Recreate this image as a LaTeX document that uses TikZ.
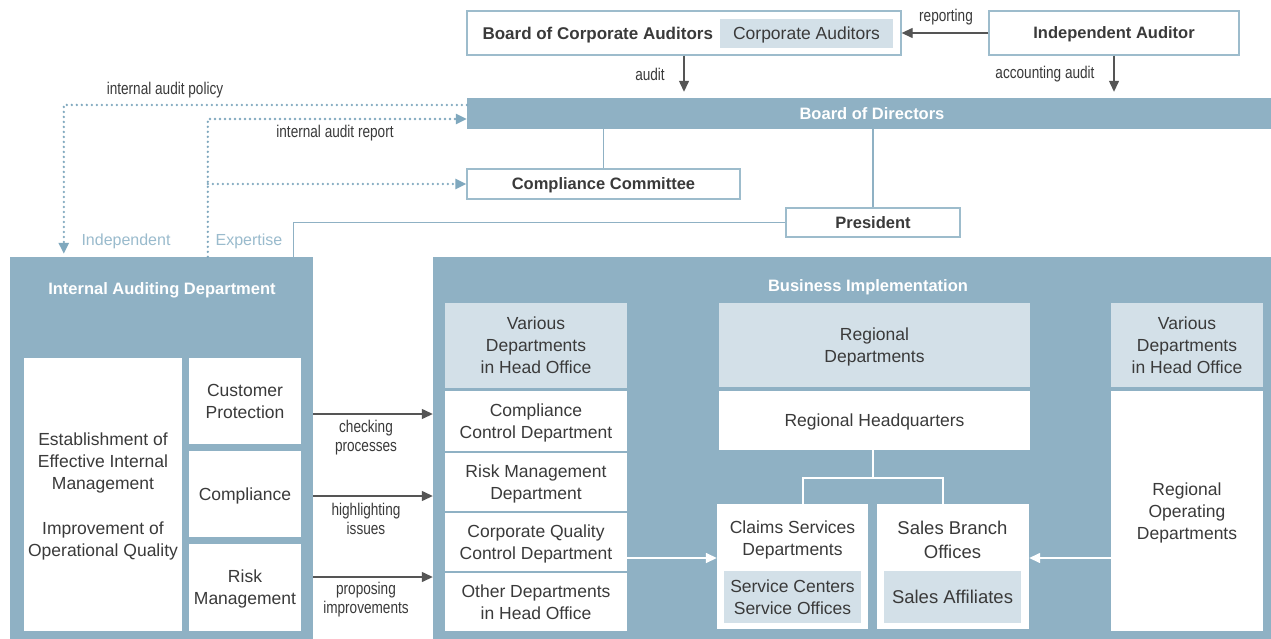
\documentclass[tikz,border=0pt]{standalone}
\usepackage{fontspec}
\setmainfont{Liberation Sans}
\newfontfamily\cond{Liberation Sans}[FakeStretch=0.8]
\usetikzlibrary{arrows.meta,calc}
\definecolor{bblue}{HTML}{8FB1C4}
\definecolor{lblue}{HTML}{D3E0E8}
\definecolor{oblue}{HTML}{9DBCCC}
\definecolor{dblue}{HTML}{7FA8BE}
\definecolor{tblue}{HTML}{9ABBCD}
\definecolor{txt}{HTML}{3A3A3A}
\definecolor{agray}{HTML}{555555}
\tikzset{
  body/.style={font=\fontsize{17.5}{22}\selectfont, text=txt, align=center, text depth=0pt},
  hbold/.style={font=\fontsize{16.5}{20}\selectfont\bfseries, align=center, text depth=0pt},
  small/.style={font=\cond\fontsize{17}{19}\selectfont, text=txt, align=center},
  outbox/.style={draw=oblue, line width=1.3pt, fill=white, inner sep=0pt},
  wbox/.style={fill=white, inner sep=0pt, body},
  lbox/.style={fill=lblue, inner sep=0pt, body},
  bluebox/.style={fill=bblue, inner sep=0pt},
  darr/.style={draw=agray, line width=1.3pt, -{Triangle[length=11pt,width=10pt]}},
  warr/.style={draw=white, line width=1.5pt, -{Triangle[length=11pt,width=10pt]}},
  bline/.style={draw=bblue, line width=1.3pt},
  wline/.style={draw=white, line width=1.8pt},
  dotline/.style={draw=dblue, line width=2.6pt, line cap=round, dash pattern=on 0pt off 5pt,
    -{Triangle[length=11pt,width=10pt,fill=dblue]}},
}
\begin{document}
\begin{tikzpicture}[x=1pt,y=-1pt]
\useasboundingbox[fill=white] (0,0) rectangle (1271,639);

% top boxes
\node[outbox, minimum width=434, minimum height=44] (bca) at (684,33) {};
\node[hbold, text=txt, anchor=west, font=\fontsize{17}{20}\selectfont\bfseries] (bcat) at (479,33) {Board of Corporate Auditors};
\node[lbox, minimum width=173, minimum height=29] (ca) at (806.5,33.5) {Corporate Auditors};
\node[outbox, hbold, text=txt, minimum width=250, minimum height=44] (ia) at (1114,33) {Independent Auditor};

\node[bluebox, hbold, text=white, minimum width=804, minimum height=31] (bod) at (869,113.5) {\hspace*{6pt}Board of Directors};
\node[outbox, hbold, text=txt, minimum width=273, minimum height=30] (cc) at (603.5,184) {Compliance Committee};
\node[outbox, hbold, text=txt, minimum width=174, minimum height=29] (pres) at (873,222.5) {President};

% containers
\node[bluebox, minimum width=303, minimum height=382] (iad) at (161.5,448) {};
\node[hbold, text=white] (iadt) at (162,289) {Internal Auditing Department};
\node[bluebox, minimum width=838, minimum height=382] (bi) at (852,448) {};
\node[hbold, text=white] (bit) at (868,286) {Business Implementation};

% IAD internals
\node[wbox, minimum width=158, minimum height=273] (est) at (103,494.5)
  {Establishment of\\Effective Internal\\Management\\[23pt]Improvement of\\Operational Quality};
\node[wbox, minimum width=112, minimum height=86] (cp) at (245,401) {Customer\\Protection};
\node[wbox, minimum width=112, minimum height=86] (comp) at (245,494) {Compliance};
\node[wbox, minimum width=112, minimum height=87] (rm) at (245,587.5) {Risk\\Management};

% BI column 1
\node[lbox, minimum width=182, minimum height=85] (h1) at (536,345.5) {Various\\Departments\\in Head Office};
\node[wbox, minimum width=182, minimum height=60] (ccd) at (536,421) {Compliance\\Control Department};
\node[wbox, minimum width=182, minimum height=58] (rmd) at (536,482) {Risk Management\\Department};
\node[wbox, minimum width=182, minimum height=58] (cqd) at (536,542) {Corporate Quality\\Control Department};
\node[wbox, minimum width=182, minimum height=58] (odh) at (536,602) {Other Departments\\in Head Office};

% BI column 2
\node[lbox, minimum width=311, minimum height=84] (h2) at (874.5,345) {Regional\\Departments};
\node[wbox, minimum width=311, minimum height=59] (rhq) at (874.5,420.5) {Regional Headquarters};
\node[fill=white, inner sep=0pt, minimum width=151, minimum height=125] (csd) at (792.5,566.5) {};
\node[body] (csdt) at (792.5,538) {Claims Services\\Departments};
\node[lbox, minimum width=137, minimum height=52] (sc) at (792.5,597) {Service Centers\\Service Offices};
\node[fill=white, inner sep=0pt, minimum width=152, minimum height=125] (sbo) at (953,566.5) {};
\node[body, font=\fontsize{18.5}{24}\selectfont] (sbot) at (952.5,540) {Sales Branch\\Offices};
\node[lbox, minimum width=137, minimum height=52, font=\fontsize{18.5}{24}\selectfont] (sa) at (952.5,597) {Sales Affiliates};

% BI column 3
\node[lbox, minimum width=152, minimum height=84] (h3) at (1187,345) {Various\\Departments\\in Head Office};
\node[wbox, minimum width=152, minimum height=240] (rod) at (1187,511) {Regional\\Operating\\Departments};

% top arrows
\draw[darr] (ia.west) -- (bca.east);
\node[small] (lrep) at (946,17) {reporting};
\draw[darr, shorten >=6pt] (bca.south) -- (bca.south |- bod.north);
\node[small] (laud) at (650,74) {audit};
\draw[darr, shorten >=6pt] (ia.south) -- (ia.south |- bod.north);
\node[small] (lacc) at (1045,74) {accounting audit};

% blue lines
\draw[bline] (bod.south -| cc.north) -- (cc.north);
\draw[bline] (bod.south -| pres.north) -- (pres.north);
\draw[bline] (pres.west) -| ($(iad.north east)+(-20,0)$);

% dotted lines
\coordinate (rep) at ($(iad.north west)+(198,0)$);
\draw[dotline, shorten >=3pt] ($(bod.west)+(0,-8.5)$) -| ($(iad.north west)+(54,0)$);
\draw[dotline] (rep) |- ($(bod.west)+(0,5.5)$);
\draw[dotline] (cc.west -| rep) -- (cc.west);
\node[small] (lpol) at (165,90) {internal audit policy};
\node[small] (lrpt) at (335,133) {internal audit report};
\node[font=\fontsize{16}{18}\selectfont, text=tblue] (lind) at (126,241) {Independent};
\node[font=\fontsize{16}{18}\selectfont, text=tblue] (lexp) at (249,241) {Expertise};

% IAD -> BI arrows
\draw[darr] ($(cp.east -| iad.east)+(0,13)$) -- ($(cp.east -| bi.west)+(0,13)$);
\draw[darr] ($(comp.east -| iad.east)+(0,2)$) -- ($(comp.east -| bi.west)+(0,2)$);
\draw[darr] ($(rm.east -| iad.east)+(0,-10.5)$) -- ($(rm.east -| bi.west)+(0,-10.5)$);
\node[small] (l1) at (366,438) {checking\\processes};
\node[small] (l2) at (366,519) {highlighting\\issues};
\node[small] (l3) at (366,600) {proposing\\improvements};

% tree
\coordinate (tj) at (873,478);
\draw[wline] (rhq.south -| tj) -- (tj);
\draw[wline] ($(csd.north)+(10.5,0)$) |- (tj) -| ($(sbo.north)+(-10,0)$);

% white arrows
\draw[warr] ($(csd.west -| cqd.east)+(0,-8.5)$) -- ($(csd.west)+(0,-8.5)$);
\draw[warr] ($(sbo.east -| rod.west)+(0,-8.5)$) -- ($(sbo.east)+(0,-8.5)$);
\end{tikzpicture}
\end{document}
